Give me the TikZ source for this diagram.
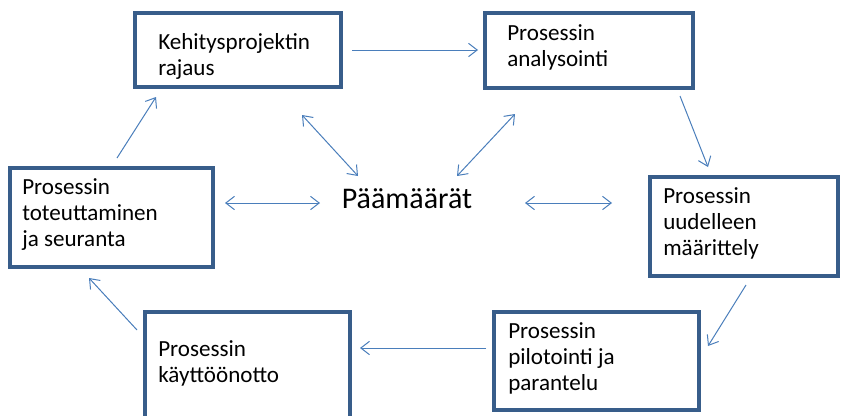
\documentclass[tikz,border=0pt]{standalone}
\usepackage{fontspec}
\setmainfont{Carlito}
\usetikzlibrary{arrows.meta,fit}
\definecolor{boxc}{HTML}{385D8A}
\definecolor{arrc}{HTML}{4A7EBB}
\tikzset{
  box/.style={draw=boxc, line width=2.3pt, inner sep=0pt, fill=none},
  btext/.style={anchor=base west, inner sep=0pt, font=\fontsize{17.3pt}{19.6pt}\selectfont},
  conn/.style={draw=arrc, line width=0.75pt, -{Straight Barb[length=6.5pt,width=10pt]}},
  dconn/.style={draw=arrc, line width=0.75pt, {Straight Barb[length=6.5pt,width=10pt]}-{Straight Barb[length=6.5pt,width=10pt]}}
}
\newcommand{\blines}[1]{\parbox[t]{7cm}{\raggedright #1}}
\begin{document}
\begin{tikzpicture}[x=0.75pt,y=-0.75pt]
\useasboundingbox (0,0) rectangle (841,415);
% boxes
\node[box, fit={(135,13) (341,87)}] (b1) {};
\node[box, fit={(485,13) (693,88)}] (b2) {};
\node[box, fit={(650,177) (838,276)}] (b3) {};
\node[box, fit={(494,312) (699,410)}] (b4) {};
\node[box, fit={(145,312) (350,422)}] (b5) {};
\node[box, fit={(10,168) (213,267)}] (b6) {};
% texts
\node[btext] (t1) at (158,49) {\blines{Kehitysprojektin\\rajaus}};
\node[btext] (t2) at (507,40) {\blines{Prosessin\\analysointi}};
\node[btext] (t3) at (663,203) {\blines{Prosessin\\uudelleen\\määrittely}};
\node[btext] (t4) at (508,338) {\blines{Prosessin\\pilotointi ja\\parantelu}};
\node[btext] (t5) at (158,356) {\blines{Prosessin\\käyttöönotto}};
\node[btext] (t6) at (22,194) {\blines{Prosessin\\toteuttaminen\\ja seuranta}};
\node[anchor=base, inner sep=0pt, font=\fontsize{22.5pt}{27pt}\selectfont] (p) at (407,208) {Päämäärät};
% cycle arrows
\coordinate (a1s) at (352,50);  \coordinate (a1e) at (478,50);
\coordinate (a2s) at (680,96);  \coordinate (a2e) at (708,167);
\coordinate (a3s) at (746,285); \coordinate (a3e) at (708,346);
\coordinate (a4s) at (486,348); \coordinate (a4e) at (360,348);
\coordinate (a5s) at (137,330); \coordinate (a5e) at (89,278);
\coordinate (a6s) at (117,158); \coordinate (a6e) at (156,97);
\draw[conn] (a1s) -- (a1e);
\draw[conn] (a2s) -- (a2e);
\draw[conn] (a3s) -- (a3e);
\draw[conn] (a4s) -- (a4e);
\draw[conn] (a5s) -- (a5e);
\draw[conn] (a6s) -- (a6e);
% double arrows
\coordinate (d1a) at (225,203); \coordinate (d1b) at (320,203);
\coordinate (d2a) at (302,115); \coordinate (d2b) at (358,176);
\coordinate (d3a) at (515,114); \coordinate (d3b) at (457,176);
\coordinate (d4a) at (525,203); \coordinate (d4b) at (612,203);
\draw[dconn] (d1a) -- (d1b);
\draw[dconn] (d2a) -- (d2b);
\draw[dconn] (d3a) -- (d3b);
\draw[dconn] (d4a) -- (d4b);
\end{tikzpicture}
\end{document}
